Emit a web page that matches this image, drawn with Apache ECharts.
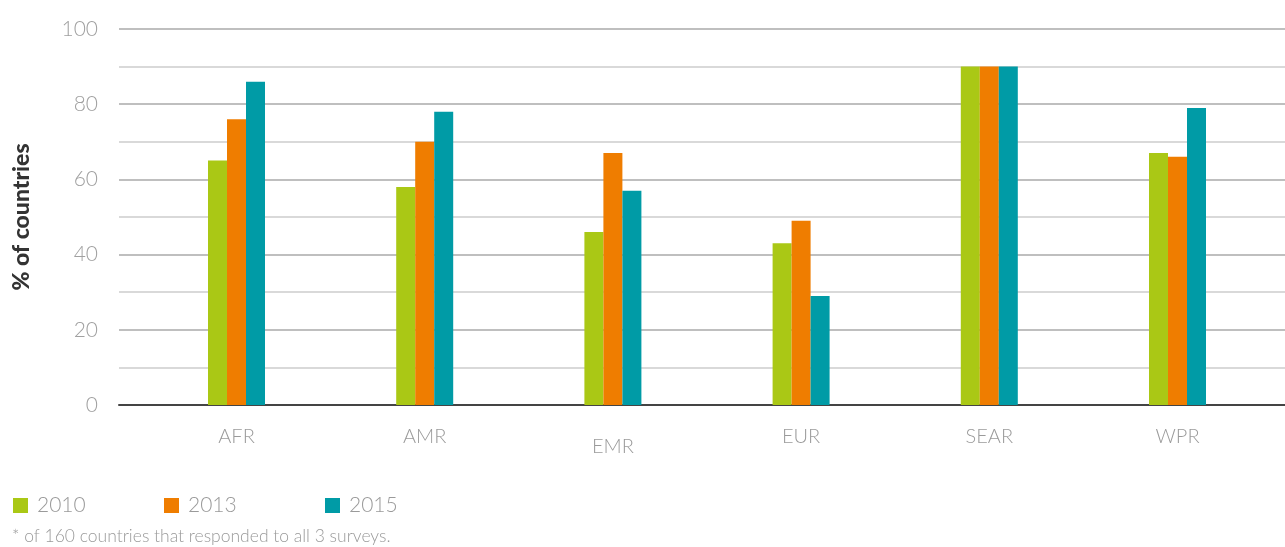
<!DOCTYPE html>
<html>
<head>
<meta charset="utf-8">
<script src="https://cdn.jsdelivr.net/npm/echarts@6/dist/echarts.min.js"></script>
<style>
html,body{margin:0;padding:0;background:#fff;}
#chart{width:1285px;height:547px;}
</style>
</head>
<body>
<div id="chart"></div>
<script>
const categories = ['AFR', 'AMR', 'EMR', 'EUR', 'SEAR', 'WPR'];
const seriesNames = ['2010', '2013', '2015'];
const values2010 = [65, 58, 46, 43, 90, 67];
const values2013 = [76, 70, 67, 49, 90, 66];
const values2015 = [86, 78, 57, 29, 90, 79];
const yTicks = [0, 20, 40, 60, 80, 100];

const colors = ['#aac815', '#ef7d00', '#009ba6'];
const FONT = 'Lato, "Open Sans", sans-serif';
const chart = echarts.init(document.getElementById('chart'), null, {renderer: 'canvas'});

const makeLegend = (name, left) => ({
  data: [name], left: left, top: 490, itemWidth: 15, itemHeight: 15,
  icon: 'rect', itemGap: 0,
  textStyle: {fontFamily: FONT, fontSize: 21, fontWeight: 300, color: '#9a9a9a', padding: [0, 0, 0, 4]}
});

chart.setOption({
  animation: false,
  color: colors,
  legend: [makeLegend('2010', 8), makeLegend('2013', 159), makeLegend('2015', 320)],
  graphic: [{
    type: 'text', left: 12, top: 527,
    style: {text: '* of 160 countries that responded to all 3 surveys.', fill: '#9a9a9a',
      font: '300 17.5px ' + FONT}
  }],
  grid: [
    {left: 142.4, right: 13.4, top: 29, bottom: 142},
    {left: 119, right: 0, top: 29, bottom: 142}
  ],
  xAxis: [
    {gridIndex: 0, type: 'category', data: categories,
      axisLine: {show: false}, axisTick: {show: false}, splitLine: {show: false},
      axisLabel: {margin: 22, fontFamily: FONT, fontSize: 20, fontWeight: 300, color: '#9a9a9a',
        formatter: v => v === 'EMR' ? '{low|EMR}' : v,
        rich: {low: {fontFamily: FONT, fontSize: 20, fontWeight: 300, color: '#9a9a9a', padding: [10, 0, 0, 0]}}}},
    {gridIndex: 1, type: 'value', min: 0, max: 1, show: true,
      axisLine: {show: true, onZero: false, lineStyle: {color: '#444', width: 2}},
      axisTick: {show: false}, axisLabel: {show: false}, splitLine: {show: false}}
  ],
  yAxis: [
    {gridIndex: 0, type: 'value', min: 0, max: 100, show: false, splitLine: {show: false}},
    {gridIndex: 1, type: 'value', min: 0, max: 100, interval: 10,
      name: '% of countries', nameLocation: 'middle', nameGap: 86, nameRotate: 90,
      nameTextStyle: {fontFamily: FONT, fontSize: 23, fontWeight: 900, color: '#333'},
      axisLine: {show: false}, axisTick: {show: false},
      axisLabel: {margin: 21, fontFamily: FONT, fontSize: 21, fontWeight: 300, color: '#a0a0a0',
        verticalAlign: 'middle', padding: [0, 0, 6, 0],
        formatter: v => yTicks.includes(v) ? String(v) : ''},
      splitLine: {show: true, lineStyle: {color: ['#aaa', '#ccc'], width: 1.5}}}
  ],
  series: [
    {name: seriesNames[0], type: 'bar', data: values2010, xAxisIndex: 0, yAxisIndex: 0, barWidth: 19, barGap: '0%', z: 3},
    {name: seriesNames[1], type: 'bar', data: values2013, xAxisIndex: 0, yAxisIndex: 0, barWidth: 19, barGap: '0%', z: 3},
    {name: seriesNames[2], type: 'bar', data: values2015, xAxisIndex: 0, yAxisIndex: 0, barWidth: 19, barGap: '0%', z: 3}
  ]
});
</script>
</body>
</html>
